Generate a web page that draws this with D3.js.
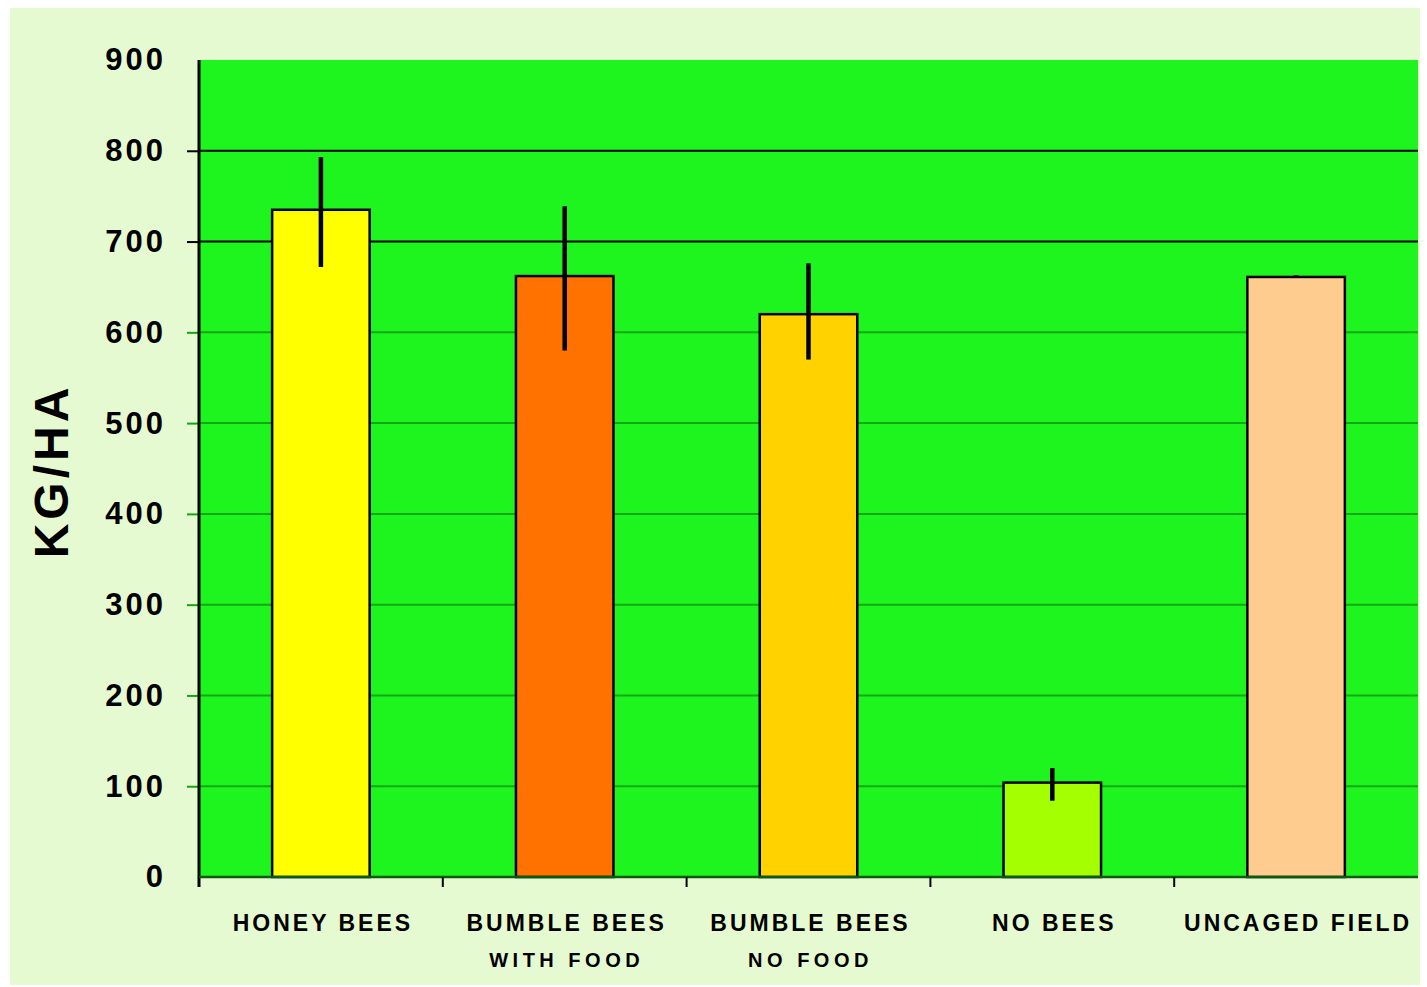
<!DOCTYPE html>
<html>
<head>
<meta charset="utf-8">
<script src="https://cdn.jsdelivr.net/npm/d3@7"></script>
<style>
  html, body { margin: 0; padding: 0; background: #ffffff; }
  svg { display: block; }
  text { font-family: "Liberation Sans", Arial, sans-serif; font-weight: bold; fill: #000; }
</style>
</head>
<body>
<svg id="chart" width="1427" height="987"></svg>
<script>
// ---- data ----
const categories = ["HONEY BEES|", "BUMBLE BEES|WITH FOOD", "BUMBLE BEES|NO FOOD", "NO BEES|", "UNCAGED FIELD|"];
const yields     = [735, 662, 620, 104, 661];
const errLow     = [672, 580, 570, 84, 660];
const errHigh    = [793, 739, 676, 120, 663];
const yTicks     = [0, 100, 200, 300, 400, 500, 600, 700, 800, 900];
const yTitle     = "KG/HA";

// ---- style ----
const barColors = ["#ffff00", "#ff7200", "#ffd200", "#a4ff00", "#ffcc90"];
const plot = { left: 199, right: 1418, top: 60, bottom: 877 };

const svg = d3.select("#chart");

// outer panel
svg.append("rect").attr("x", 10).attr("y", 8).attr("width", 1410).attr("height", 977).attr("fill", "#e6fad2");

const x = d3.scaleBand().domain(categories).range([plot.left, plot.right]).paddingInner(0.6).paddingOuter(0.3);
const y = d3.scaleLinear().domain([0, 900]).range([plot.bottom, plot.top]);

// plot area
svg.append("rect").attr("x", plot.left).attr("y", plot.top)
  .attr("width", plot.right - plot.left).attr("height", plot.bottom - plot.top)
  .attr("fill", "#1ef51e");

// gridlines
const gridColor = v => (v >= 700 ? "#000" : "#12a812");
svg.append("g").selectAll("line").data(yTicks.filter(v => v > 0 && v < 900)).join("line")
  .attr("x1", plot.left).attr("x2", plot.right)
  .attr("y1", d => y(d)).attr("y2", d => y(d))
  .attr("stroke", gridColor).attr("stroke-width", 2);

// y axis
const yAxis = svg.append("g").attr("transform", `translate(${plot.left},0)`)
  .call(d3.axisLeft(y).tickValues(yTicks).tickSize(12).tickPadding(24));
yAxis.select(".domain").remove();
yAxis.selectAll(".tick line")
  .attr("stroke", d => d >= 700 ? "#000" : (d === 0 ? "#000" : "#12a812"))
  .attr("stroke-width", 2)
  .attr("opacity", d => (d === 900 || d === 0) ? 0 : 1);
yAxis.selectAll(".tick text").attr("font-size", 31).attr("letter-spacing", 3).attr("dx", 3)
  .attr("font-family", "'Liberation Sans', Arial, sans-serif").attr("font-weight", "bold").attr("fill", "#000");

// left axis line
svg.append("line").attr("x1", plot.left).attr("x2", plot.left).attr("y1", plot.top).attr("y2", plot.bottom + 10)
  .attr("stroke", "#000").attr("stroke-width", 3);

// bars
svg.append("g").selectAll("rect").data(categories).join("rect")
  .attr("x", d => x(d)).attr("width", x.bandwidth())
  .attr("y", (d, i) => y(yields[i])).attr("height", (d, i) => y(0) - y(yields[i]))
  .attr("fill", (d, i) => barColors[i]).attr("stroke", "#000").attr("stroke-width", 2.5);

// error bars
svg.append("g").selectAll("line").data(categories).join("line")
  .attr("x1", d => x(d) + x.bandwidth() / 2).attr("x2", d => x(d) + x.bandwidth() / 2)
  .attr("y1", (d, i) => y(errHigh[i])).attr("y2", (d, i) => y(errLow[i]))
  .attr("stroke", "#000").attr("stroke-width", 4.5);

// x axis line and boundary ticks
svg.append("line").attr("x1", plot.left).attr("x2", plot.right).attr("y1", plot.bottom).attr("y2", plot.bottom)
  .attr("stroke", "#0b5a0b").attr("stroke-width", 2.5);
const step = x.step();
const bounds = categories.map(d => x(d) - step * x.paddingOuter());
svg.append("g").selectAll("line").data(bounds.slice(1)).join("line")
  .attr("x1", d => d).attr("x2", d => d).attr("y1", plot.bottom).attr("y2", plot.bottom + 10)
  .attr("stroke", "#000").attr("stroke-width", 2);

// x labels
const lbl = svg.append("g").selectAll("text").data(categories).join("text")
  .attr("text-anchor", "middle");
lbl.append("tspan")
  .attr("x", d => x(d) + x.bandwidth() / 2 + 2).attr("y", 931)
  .attr("font-size", 23).attr("letter-spacing", 3)
  .text(d => d.split("|")[0]);
lbl.append("tspan")
  .attr("x", d => x(d) + x.bandwidth() / 2 + 2).attr("y", 967)
  .attr("font-size", 20).attr("letter-spacing", 4.5)
  .text(d => d.split("|")[1]);

// y title
svg.append("text").attr("transform", "translate(68,471) rotate(-90)")
  .attr("text-anchor", "middle").attr("font-size", 48).attr("letter-spacing", 4)
  .text(yTitle);
</script>
</body>
</html>
